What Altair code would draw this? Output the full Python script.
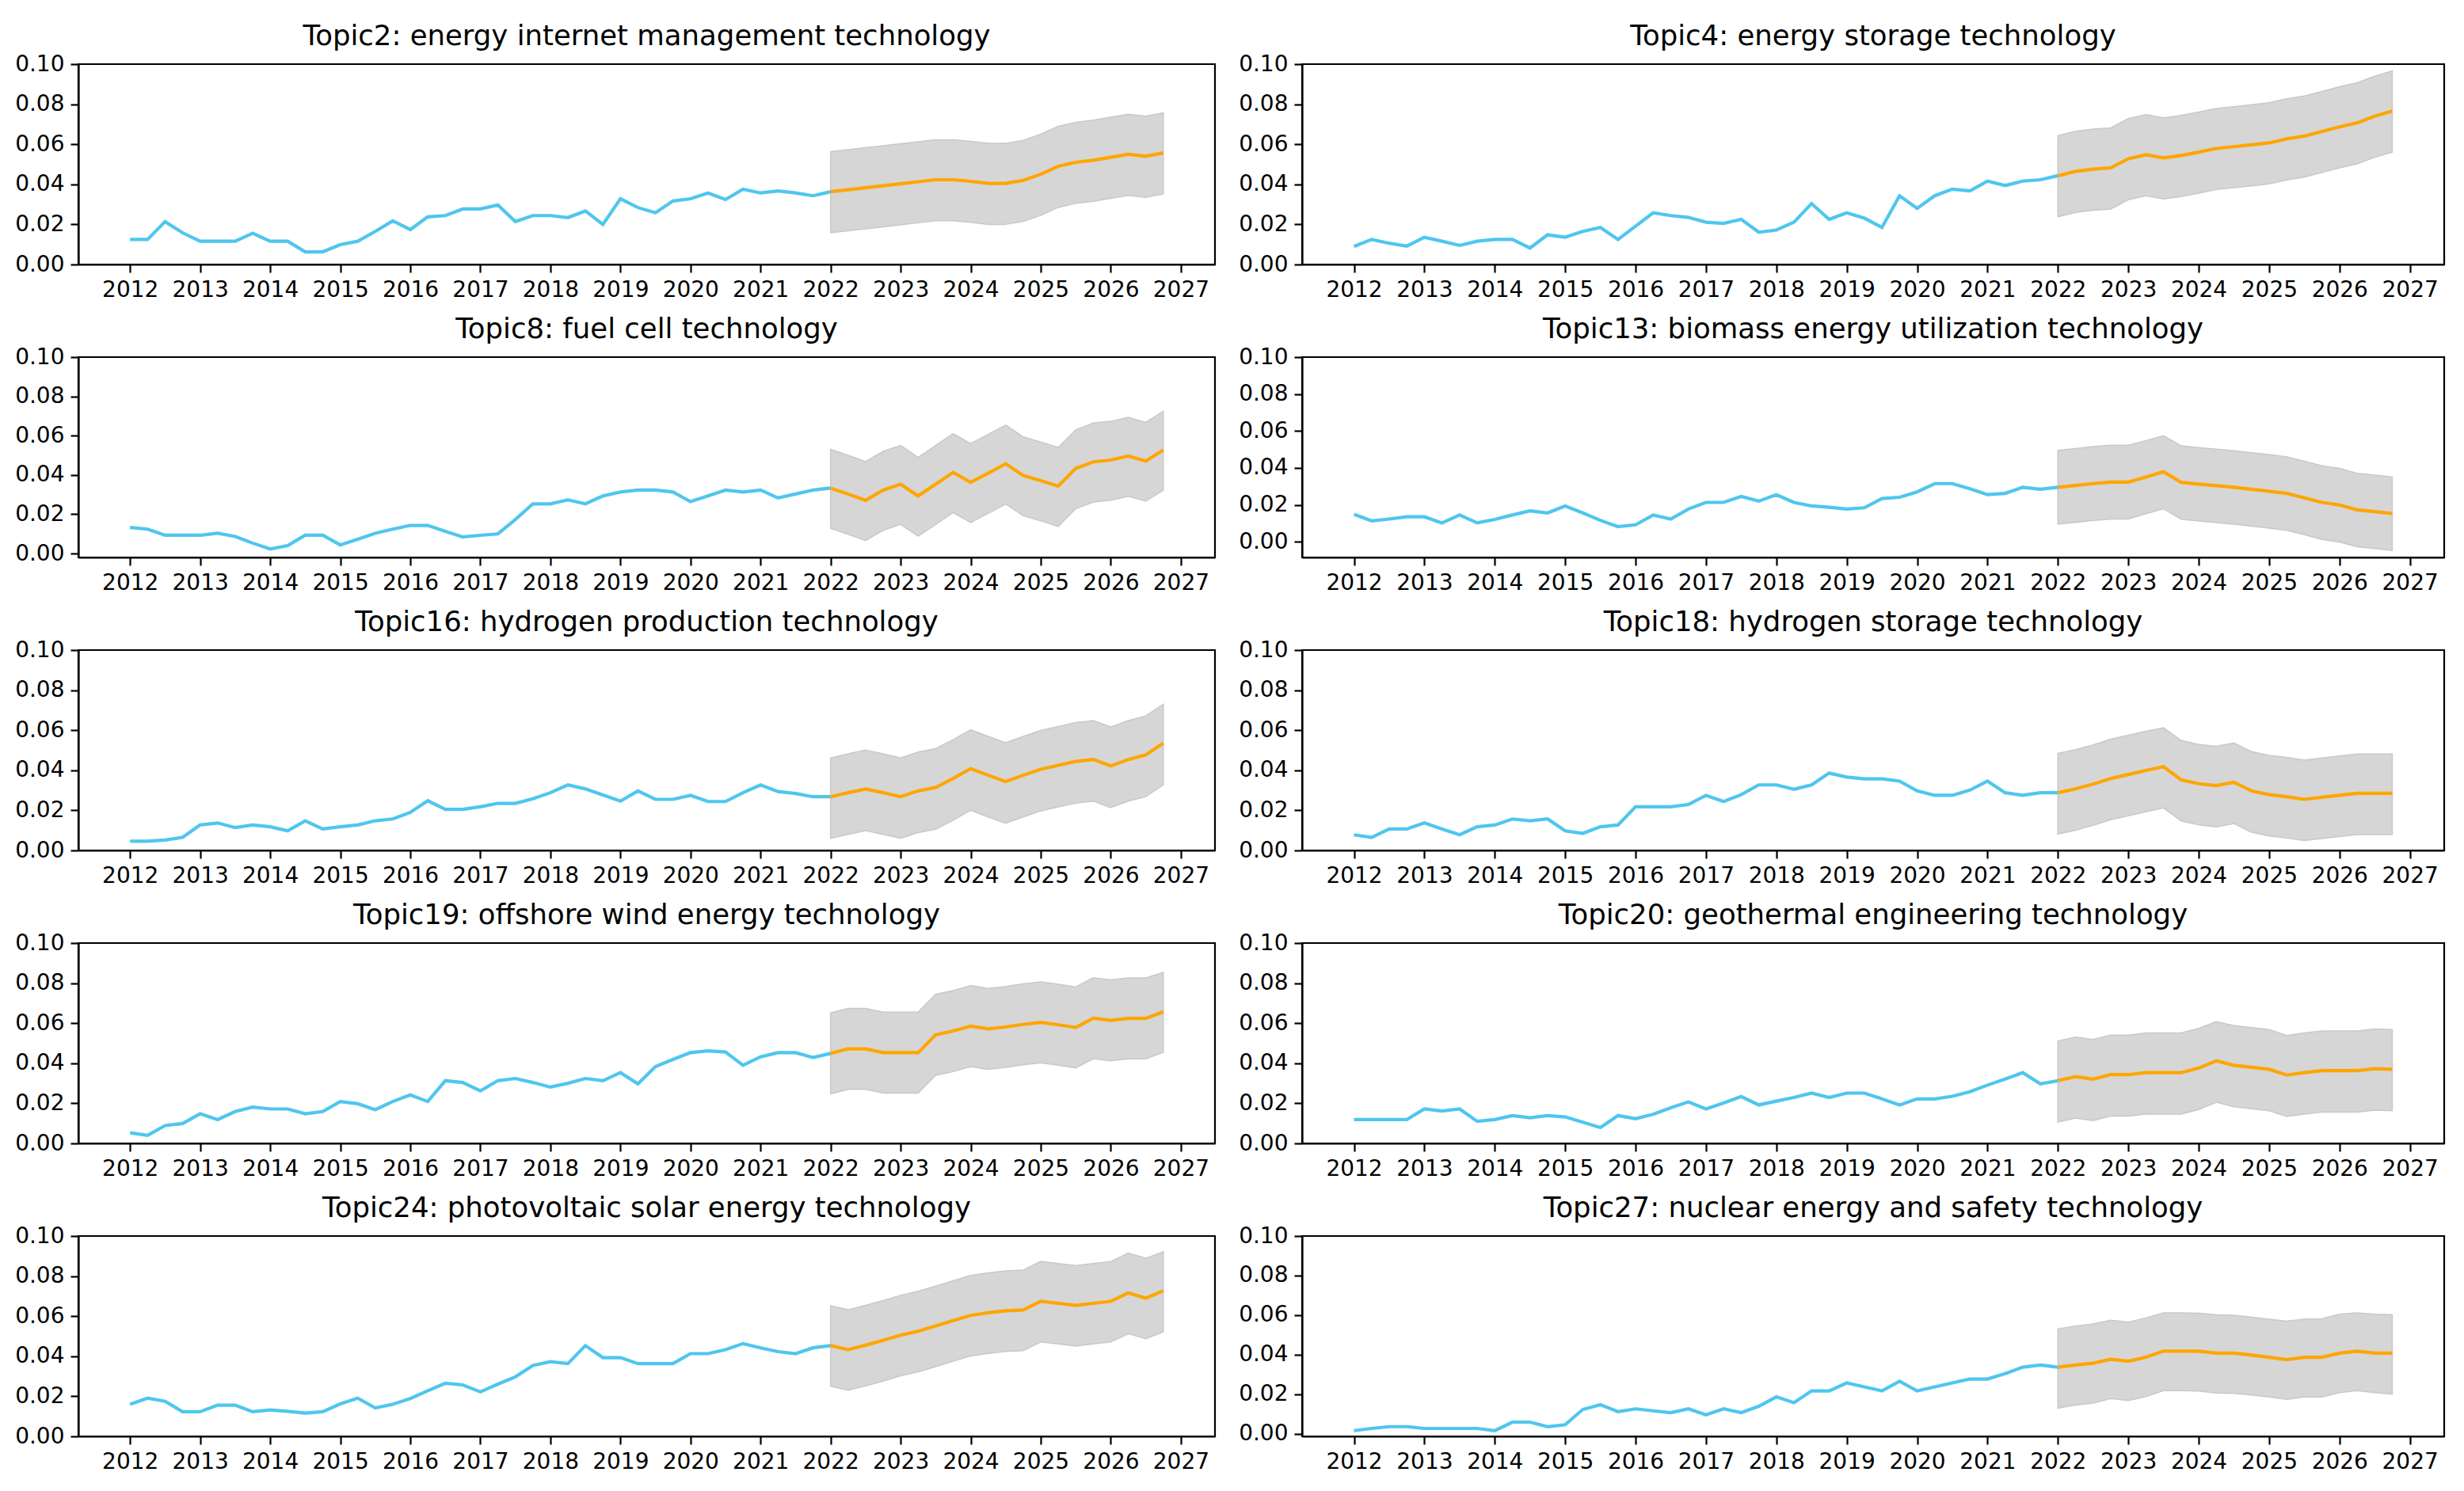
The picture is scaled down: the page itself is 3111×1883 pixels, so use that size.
import altair as alt
import pandas as pd

titles = [
    "Topic2: energy internet management technology",
    "Topic4: energy storage technology",
    "Topic8: fuel cell technology",
    "Topic13: biomass energy utilization technology",
    "Topic16: hydrogen production technology",
    "Topic18: hydrogen storage technology",
    "Topic19: offshore wind energy technology",
    "Topic20: geothermal engineering technology",
    "Topic24: photovoltaic solar energy technology",
    "Topic27: nuclear energy and safety technology",
]

# quarterly time stamps
hist_t = [2012 + 0.25 * i for i in range(41)]   # 2012.00 .. 2022.00
fc_t = [2022 + 0.25 * i for i in range(20)]     # 2022.00 .. 2026.75

hist_topic2 = [0.0125, 0.0125, 0.0214, 0.0158, 0.0116, 0.0116, 0.0116, 0.0156, 0.0116, 0.0116,
               0.0063, 0.0063, 0.0099, 0.0116, 0.0165, 0.0218, 0.0174, 0.0238, 0.0244, 0.0277,
               0.0277, 0.0297, 0.0214, 0.0244, 0.0244, 0.0234, 0.0267, 0.0200, 0.0328, 0.0284,
               0.0258, 0.0317, 0.0328, 0.0357, 0.0324, 0.0376, 0.0357, 0.0367, 0.0357, 0.0343,
               0.0363]
fc_topic2 = [0.0363, 0.0373, 0.0383, 0.0393, 0.0403, 0.0413, 0.0423, 0.0423, 0.0415, 0.0405,
             0.0405, 0.0420, 0.0450, 0.0490, 0.0510, 0.0520, 0.0535, 0.0550, 0.0540, 0.0557]
up_topic2 = [0.0563, 0.0573, 0.0583, 0.0593, 0.0603, 0.0613, 0.0623, 0.0623, 0.0615, 0.0605,
             0.0605, 0.0620, 0.0650, 0.0690, 0.0710, 0.0720, 0.0735, 0.0750, 0.0740, 0.0757]
lo_topic2 = [0.0158, 0.0168, 0.0178, 0.0188, 0.0198, 0.0208, 0.0218, 0.0218, 0.0210, 0.0200,
             0.0200, 0.0215, 0.0245, 0.0285, 0.0305, 0.0315, 0.0330, 0.0345, 0.0335, 0.0352]

hist_topic4 = [0.0090, 0.0125, 0.0106, 0.0092, 0.0136, 0.0116, 0.0095, 0.0116, 0.0125, 0.0125,
               0.0082, 0.0148, 0.0136, 0.0165, 0.0185, 0.0125, 0.0191, 0.0258, 0.0244, 0.0235,
               0.0211, 0.0205, 0.0225, 0.0161, 0.0172, 0.0211, 0.0304, 0.0225, 0.0258, 0.0231,
               0.0185, 0.0343, 0.0280, 0.0343, 0.0376, 0.0367, 0.0416, 0.0394, 0.0416, 0.0423,
               0.0443]
fc_topic4 = [0.0443, 0.0465, 0.0476, 0.0482, 0.0528, 0.0548, 0.0532, 0.0544, 0.0561, 0.0579,
             0.0588, 0.0597, 0.0607, 0.0627, 0.0641, 0.0664, 0.0687, 0.0707, 0.0740, 0.0766]
up_topic4 = [0.0643, 0.0665, 0.0676, 0.0682, 0.0728, 0.0748, 0.0732, 0.0744, 0.0761, 0.0779,
             0.0788, 0.0797, 0.0807, 0.0827, 0.0841, 0.0864, 0.0887, 0.0907, 0.0940, 0.0966]
lo_topic4 = [0.0238, 0.0260, 0.0271, 0.0277, 0.0323, 0.0343, 0.0327, 0.0339, 0.0356, 0.0374,
             0.0383, 0.0392, 0.0402, 0.0422, 0.0436, 0.0459, 0.0482, 0.0502, 0.0535, 0.0561]

hist_topic8 = [0.0133, 0.0124, 0.0093, 0.0093, 0.0093, 0.0103, 0.0087, 0.0053, 0.0023, 0.0040,
               0.0093, 0.0093, 0.0044, 0.0073, 0.0103, 0.0124, 0.0143, 0.0143, 0.0113, 0.0084,
               0.0093, 0.0100, 0.0173, 0.0253, 0.0253, 0.0273, 0.0253, 0.0293, 0.0313, 0.0323,
               0.0323, 0.0313, 0.0264, 0.0293, 0.0323, 0.0313, 0.0323, 0.0283, 0.0303, 0.0323,
               0.0333]
fc_topic8 = [0.0333, 0.0303, 0.0271, 0.0323, 0.0353, 0.0293, 0.0353, 0.0413, 0.0363, 0.0409,
             0.0457, 0.0397, 0.0371, 0.0343, 0.0433, 0.0467, 0.0476, 0.0496, 0.0471, 0.0527]
up_topic8 = [0.0530, 0.0500, 0.0468, 0.0520, 0.0550, 0.0490, 0.0550, 0.0610, 0.0560, 0.0606,
             0.0654, 0.0594, 0.0568, 0.0540, 0.0630, 0.0664, 0.0673, 0.0693, 0.0668, 0.0724]
lo_topic8 = [0.0128, 0.0098, 0.0066, 0.0118, 0.0148, 0.0088, 0.0148, 0.0208, 0.0158, 0.0204,
             0.0252, 0.0192, 0.0166, 0.0138, 0.0228, 0.0262, 0.0271, 0.0291, 0.0266, 0.0322]

hist_topic13 = [0.0149, 0.0113, 0.0123, 0.0135, 0.0135, 0.0102, 0.0145, 0.0102, 0.0121, 0.0145,
                0.0167, 0.0156, 0.0194, 0.0156, 0.0116, 0.0082, 0.0092, 0.0145, 0.0123, 0.0177,
                0.0213, 0.0213, 0.0245, 0.0220, 0.0255, 0.0213, 0.0194, 0.0187, 0.0177, 0.0184,
                0.0234, 0.0241, 0.0270, 0.0315, 0.0315, 0.0287, 0.0255, 0.0262, 0.0295, 0.0284,
                0.0295]
fc_topic13 = [0.0295, 0.0305, 0.0315, 0.0323, 0.0323, 0.0350, 0.0379, 0.0322, 0.0312, 0.0304,
              0.0295, 0.0284, 0.0274, 0.0262, 0.0238, 0.0213, 0.0199, 0.0173, 0.0163, 0.0153]
up_topic13 = [0.0495, 0.0505, 0.0515, 0.0523, 0.0523, 0.0548, 0.0574, 0.0520, 0.0510, 0.0502,
              0.0493, 0.0482, 0.0472, 0.0460, 0.0436, 0.0411, 0.0397, 0.0371, 0.0361, 0.0351]
lo_topic13 = [0.0095, 0.0105, 0.0115, 0.0123, 0.0123, 0.0152, 0.0179, 0.0122, 0.0112, 0.0104,
              0.0095, 0.0084, 0.0074, 0.0062, 0.0038, 0.0013, -0.0001, -0.0027, -0.0037, -0.0047]

hist_topic16 = [0.0046, 0.0046, 0.0052, 0.0065, 0.0127, 0.0137, 0.0114, 0.0127, 0.0118, 0.0098,
                0.0148, 0.0107, 0.0118, 0.0127, 0.0148, 0.0157, 0.0190, 0.0248, 0.0205, 0.0205,
                0.0218, 0.0235, 0.0235, 0.0258, 0.0288, 0.0327, 0.0307, 0.0277, 0.0246, 0.0297,
                0.0255, 0.0255, 0.0275, 0.0244, 0.0244, 0.0288, 0.0327, 0.0294, 0.0284, 0.0268,
                0.0268]
fc_topic16 = [0.0268, 0.0288, 0.0307, 0.0288, 0.0268, 0.0297, 0.0314, 0.0359, 0.0408, 0.0375,
              0.0344, 0.0375, 0.0405, 0.0425, 0.0444, 0.0454, 0.0422, 0.0454, 0.0477, 0.0536]
up_topic16 = [0.0462, 0.0482, 0.0501, 0.0482, 0.0462, 0.0491, 0.0508, 0.0553, 0.0602, 0.0569,
              0.0538, 0.0569, 0.0599, 0.0619, 0.0638, 0.0648, 0.0616, 0.0648, 0.0671, 0.0730]
lo_topic16 = [0.0060, 0.0080, 0.0099, 0.0080, 0.0060, 0.0089, 0.0106, 0.0151, 0.0200, 0.0167,
              0.0136, 0.0167, 0.0197, 0.0217, 0.0236, 0.0246, 0.0214, 0.0246, 0.0269, 0.0328]

hist_topic18 = [0.0078, 0.0065, 0.0107, 0.0107, 0.0137, 0.0107, 0.0078, 0.0118, 0.0127, 0.0157,
                0.0148, 0.0157, 0.0098, 0.0085, 0.0118, 0.0127, 0.0218, 0.0218, 0.0218, 0.0229,
                0.0275, 0.0244, 0.0278, 0.0327, 0.0327, 0.0305, 0.0327, 0.0386, 0.0366, 0.0357,
                0.0357, 0.0346, 0.0297, 0.0275, 0.0275, 0.0301, 0.0346, 0.0288, 0.0275, 0.0288,
                0.0288]
fc_topic18 = [0.0288, 0.0307, 0.0331, 0.0359, 0.0379, 0.0399, 0.0418, 0.0353, 0.0333, 0.0324,
              0.0340, 0.0297, 0.0278, 0.0268, 0.0255, 0.0265, 0.0275, 0.0285, 0.0285, 0.0285]
up_topic18 = [0.0484, 0.0503, 0.0527, 0.0555, 0.0575, 0.0595, 0.0612, 0.0549, 0.0529, 0.0520,
              0.0536, 0.0493, 0.0474, 0.0464, 0.0451, 0.0461, 0.0471, 0.0481, 0.0481, 0.0481]
lo_topic18 = [0.0082, 0.0101, 0.0125, 0.0153, 0.0173, 0.0193, 0.0212, 0.0147, 0.0127, 0.0118,
              0.0134, 0.0091, 0.0072, 0.0062, 0.0049, 0.0059, 0.0069, 0.0079, 0.0079, 0.0079]

hist_topic19 = [0.0053, 0.0040, 0.0089, 0.0099, 0.0148, 0.0119, 0.0159, 0.0181, 0.0172, 0.0172,
                0.0148, 0.0159, 0.0209, 0.0198, 0.0168, 0.0209, 0.0242, 0.0209, 0.0313, 0.0304,
                0.0262, 0.0313, 0.0324, 0.0304, 0.0281, 0.0300, 0.0324, 0.0313, 0.0353, 0.0297,
                0.0383, 0.0419, 0.0453, 0.0462, 0.0456, 0.0390, 0.0432, 0.0453, 0.0453, 0.0429,
                0.0449]
fc_topic19 = [0.0449, 0.0472, 0.0472, 0.0453, 0.0453, 0.0453, 0.0542, 0.0561, 0.0585, 0.0572,
              0.0581, 0.0594, 0.0604, 0.0592, 0.0579, 0.0625, 0.0614, 0.0624, 0.0624, 0.0657]
up_topic19 = [0.0651, 0.0674, 0.0674, 0.0655, 0.0655, 0.0655, 0.0744, 0.0763, 0.0787, 0.0774,
              0.0783, 0.0796, 0.0806, 0.0794, 0.0781, 0.0827, 0.0816, 0.0826, 0.0826, 0.0854]
lo_topic19 = [0.0247, 0.0270, 0.0270, 0.0251, 0.0251, 0.0251, 0.0340, 0.0359, 0.0383, 0.0370,
              0.0379, 0.0392, 0.0402, 0.0390, 0.0377, 0.0423, 0.0412, 0.0422, 0.0422, 0.0455]

hist_topic20 = [0.0119, 0.0119, 0.0119, 0.0119, 0.0172, 0.0162, 0.0172, 0.0110, 0.0119, 0.0139,
                0.0128, 0.0139, 0.0132, 0.0106, 0.0079, 0.0139, 0.0123, 0.0145, 0.0178, 0.0207,
                0.0172, 0.0202, 0.0234, 0.0192, 0.0211, 0.0229, 0.0251, 0.0229, 0.0251, 0.0251,
                0.0222, 0.0192, 0.0222, 0.0222, 0.0235, 0.0258, 0.0291, 0.0321, 0.0353, 0.0297,
                0.0313]
fc_topic20 = [0.0313, 0.0333, 0.0321, 0.0343, 0.0343, 0.0353, 0.0353, 0.0353, 0.0376, 0.0412,
              0.0390, 0.0380, 0.0370, 0.0341, 0.0353, 0.0363, 0.0363, 0.0363, 0.0373, 0.0370]
up_topic20 = [0.0511, 0.0531, 0.0519, 0.0541, 0.0541, 0.0551, 0.0551, 0.0551, 0.0574, 0.0608,
              0.0588, 0.0578, 0.0568, 0.0539, 0.0551, 0.0561, 0.0561, 0.0561, 0.0571, 0.0568]
lo_topic20 = [0.0106, 0.0126, 0.0114, 0.0136, 0.0136, 0.0146, 0.0146, 0.0146, 0.0169, 0.0205,
              0.0183, 0.0173, 0.0163, 0.0134, 0.0146, 0.0156, 0.0156, 0.0156, 0.0166, 0.0163]

hist_topic24 = [0.0160, 0.0191, 0.0175, 0.0123, 0.0123, 0.0156, 0.0156, 0.0123, 0.0132, 0.0125,
                0.0116, 0.0123, 0.0162, 0.0191, 0.0142, 0.0160, 0.0189, 0.0228, 0.0265, 0.0257,
                0.0222, 0.0261, 0.0297, 0.0354, 0.0373, 0.0363, 0.0453, 0.0393, 0.0393, 0.0363,
                0.0363, 0.0363, 0.0413, 0.0413, 0.0433, 0.0463, 0.0442, 0.0423, 0.0413, 0.0442,
                0.0453]
fc_topic24 = [0.0453, 0.0433, 0.0455, 0.0479, 0.0505, 0.0525, 0.0551, 0.0578, 0.0604, 0.0617,
              0.0627, 0.0631, 0.0674, 0.0664, 0.0654, 0.0664, 0.0674, 0.0716, 0.0690, 0.0727]
up_topic24 = [0.0652, 0.0632, 0.0654, 0.0678, 0.0704, 0.0724, 0.0750, 0.0777, 0.0803, 0.0816,
              0.0826, 0.0830, 0.0873, 0.0863, 0.0853, 0.0863, 0.0873, 0.0915, 0.0889, 0.0922]
lo_topic24 = [0.0250, 0.0230, 0.0252, 0.0276, 0.0302, 0.0322, 0.0348, 0.0375, 0.0401, 0.0414,
              0.0424, 0.0428, 0.0471, 0.0461, 0.0451, 0.0461, 0.0471, 0.0513, 0.0487, 0.0522]

hist_topic27 = [0.0016, 0.0027, 0.0036, 0.0036, 0.0027, 0.0027, 0.0027, 0.0027, 0.0016, 0.0059,
                0.0059, 0.0036, 0.0046, 0.0123, 0.0147, 0.0112, 0.0126, 0.0116, 0.0107, 0.0126,
                0.0096, 0.0126, 0.0107, 0.0139, 0.0187, 0.0157, 0.0217, 0.0217, 0.0257, 0.0237,
                0.0217, 0.0266, 0.0217, 0.0237, 0.0257, 0.0277, 0.0277, 0.0304, 0.0337, 0.0348,
                0.0337]
fc_topic27 = [0.0337, 0.0348, 0.0357, 0.0377, 0.0367, 0.0387, 0.0418, 0.0418, 0.0418, 0.0408,
              0.0408, 0.0398, 0.0387, 0.0375, 0.0387, 0.0387, 0.0408, 0.0418, 0.0408, 0.0408]
up_topic27 = [0.0531, 0.0545, 0.0556, 0.0575, 0.0565, 0.0586, 0.0612, 0.0612, 0.0610, 0.0602,
              0.0600, 0.0590, 0.0580, 0.0570, 0.0580, 0.0582, 0.0605, 0.0612, 0.0605, 0.0603]
lo_topic27 = [0.0130, 0.0145, 0.0155, 0.0178, 0.0168, 0.0188, 0.0218, 0.0218, 0.0216, 0.0206,
              0.0204, 0.0196, 0.0186, 0.0174, 0.0186, 0.0186, 0.0208, 0.0218, 0.0208, 0.0200]

y_bottoms = [0.0, 0.0, -0.002, -0.0085, 0.0, 0.0, 0.0, 0.0, 0.0, -0.0013]

hists = [hist_topic2, hist_topic4, hist_topic8, hist_topic13, hist_topic16,
         hist_topic18, hist_topic19, hist_topic20, hist_topic24, hist_topic27]
fcs = [fc_topic2, fc_topic4, fc_topic8, fc_topic13, fc_topic16,
       fc_topic18, fc_topic19, fc_topic20, fc_topic24, fc_topic27]
ups = [up_topic2, up_topic4, up_topic8, up_topic13, up_topic16,
       up_topic18, up_topic19, up_topic20, up_topic24, up_topic27]
los = [lo_topic2, lo_topic4, lo_topic8, lo_topic13, lo_topic16,
       lo_topic18, lo_topic19, lo_topic20, lo_topic24, lo_topic27]

year_ticks = list(range(2012, 2028))
y_ticks = [0.0, 0.02, 0.04, 0.06, 0.08, 0.10]

BLUE = "#4fc6ee"
ORANGE = "#ffa500"

AX = dict(grid=False, title=None, labelFont="DejaVu Sans", labelFontSize=28,
          labelColor="#000000", domainColor="#000000", domainWidth=2.2,
          tickColor="#000000", tickWidth=2.2, tickSize=10, labelPadding=8)


def panel(i, width):
    hist_df = pd.DataFrame({"t": hist_t, "v": hists[i]})
    fc_df = pd.DataFrame({"t": fc_t, "v": fcs[i], "up": ups[i], "lo": los[i]})
    xs = alt.Scale(domain=[2011.2625, 2027.4875], nice=False, zero=False)
    ys = alt.Scale(domain=[y_bottoms[i], 0.1], nice=False, zero=False)
    xax = alt.Axis(values=year_ticks, format="d", labelFlush=False, **AX)
    yax = alt.Axis(values=y_ticks, format=".2f", labelFlush=False, **AX)
    band = alt.Chart(fc_df).mark_area(color="#d6d6d6", stroke="#c9c9c9", strokeWidth=1.5).encode(
        x=alt.X("t:Q", scale=xs, axis=xax),
        y=alt.Y("up:Q", scale=ys, axis=yax),
        y2="lo:Q",
    )
    hline = alt.Chart(hist_df).mark_line(color=BLUE, strokeWidth=4.2).encode(
        x=alt.X("t:Q", scale=xs), y=alt.Y("v:Q", scale=ys)
    )
    fline = alt.Chart(fc_df).mark_line(color=ORANGE, strokeWidth=4.2).encode(
        x=alt.X("t:Q", scale=xs), y=alt.Y("v:Q", scale=ys)
    )
    return alt.layer(band, hline, fline).properties(
        width=width, height=253,
        title=alt.TitleParams(titles[i], fontSize=35.5, fontWeight="normal",
                              font="DejaVu Sans", color="#000000", offset=3, anchor="middle"),
    )


rows = []
for r in range(5):
    rows.append(alt.hconcat(panel(2 * r, 1435), panel(2 * r + 1, 1442), spacing=26))

chart = alt.vconcat(*rows, spacing=15).properties(
    padding={"top": 19, "left": 9, "right": 5, "bottom": 5},
    background="white",
).configure_view(
    stroke="#000000", strokeWidth=2.2
)

chart.save("out.html", embed_options={"renderer": "svg", "actions": False})
